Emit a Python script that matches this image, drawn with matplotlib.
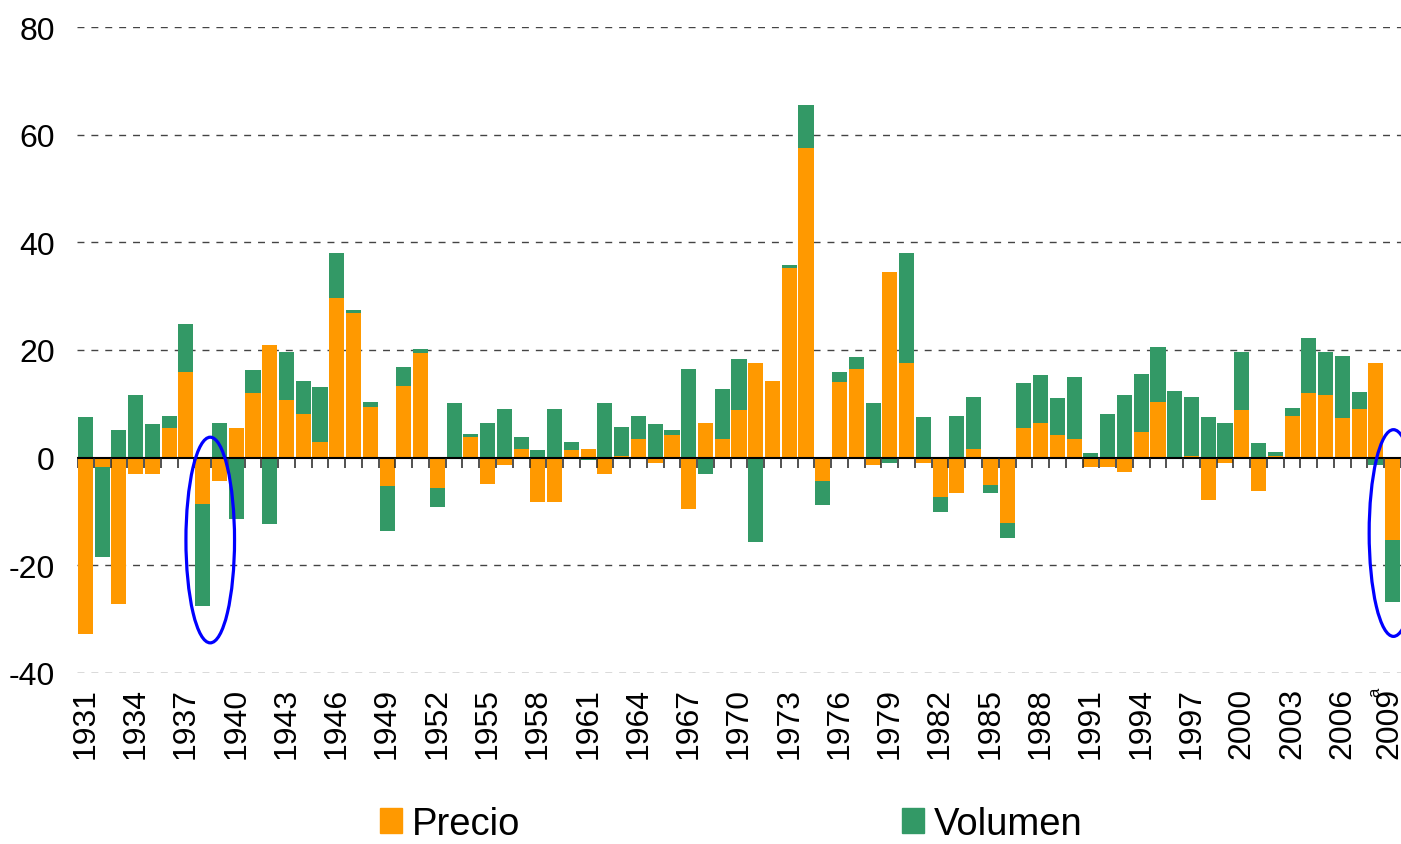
import numpy as np
import matplotlib.pyplot as plt
import matplotlib.transforms as mtransforms
from matplotlib.patches import Ellipse, Patch

plt.rcParams['font.family'] = ['Liberation Sans', 'DejaVu Sans']

# contribuciones anuales (puntos porcentuales)
years = list(range(1931, 2010))
precio = [-32.7, -1.8, -27.2, -3.1, -3.1, 5.6, 16.0, -8.6, -4.4, 5.6, 12.1, 21.0, 10.8, 8.2,
          3.0, 29.7, 26.9, 9.5, -5.3, 13.4, 19.5, -5.7, 0.0, 3.8, -4.8, -1.4, 1.7,
          -8.3, -8.3, 1.5, 1.7, -3.1, 0.25, 3.4, -0.9, 4.3, -9.6, 6.5, 3.4, 8.8,
          17.5, 14.3, 35.2, 57.5, -4.4, 14.0, 16.5, -1.4, 34.5, 17.5, -0.9, -7.3, -6.6,
          1.7, -5.1, -12.2, 5.6, 6.4, 4.3, 3.4, -1.8, -1.8, -2.7, 4.7, 10.4, 0.0,
          0.4, -7.9, -0.9, 8.8, -6.2, 0.4, 7.7, 12.1, 11.7, 7.3, 9.1, 17.5, -15.3]
volumen = [7.5, -16.7, 5.2, 11.7, 6.2, 2.2, 8.9, -18.9, 6.5, -11.4, 4.1, -12.3, 8.9, 6.1,
           10.2, 8.3, 0.6, 0.9, -8.3, 3.5, 0.6, -3.5, 10.1, 0.6, 6.5, 9.1, 2.2,
           1.4, 9.1, 1.5, -0.5, 10.1, 5.4, 4.4, 6.2, 0.9, 16.5, -3.1, 9.3, 9.6,
           -15.7, 0.0, 0.6, 8.0, -4.4, 1.9, 2.2, 10.1, -0.9, 20.6, 7.5, -2.8, 7.8,
           9.6, -1.5, -2.8, 8.3, 8.9, 6.7, 11.5, 0.8, 8.2, 11.7, 10.9, 10.2, 12.3,
           10.9, 7.5, 6.5, 10.9, 2.7, 0.6, 1.5, 10.2, 8.0, 11.5, 3.1, -1.4, -11.5]

c_precio = '#FF9900'
c_vol = '#339966'

fig = plt.figure(figsize=(14.01, 8.45), dpi=100)
ax = fig.add_axes([77/1401, 1-674/845, 1-77/1401, (674-28)/845])

x = np.arange(len(years))
p = np.array(precio)
v = np.array(volumen)
# apilado tipo Excel: positivos sobre positivos, negativos bajo negativos
bottom_v = np.where(np.sign(p) == np.sign(v), p, 0)

ax.bar(x, p, width=0.9, color=c_precio, zorder=2)
ax.bar(x, v, bottom=bottom_v, width=0.9, color=c_vol, zorder=2)

for yy in [-40, -20, 20, 40, 60, 80]:
    ax.axhline(yy, color='#444444', lw=1.0, ls=(0, (5, 5)), zorder=1)
ax.axhline(0, color='black', lw=1.5, zorder=3)
ax.vlines(np.arange(-0.5, len(years)), 0, -1.9, color='#222222', lw=1.1, zorder=3)

# elipses de resaltado
ax.add_patch(Ellipse((7.45, -15.3), 2.9, 38.2, fill=False, edgecolor='#0000FF', lw=2.3, zorder=4))
ax.add_patch(Ellipse((78.05, -14.0), 2.9, 38.4, fill=False, edgecolor='#0000FF', lw=2.3, zorder=4))

ax.set_xlim(-0.5, len(years) - 0.5)
ax.set_ylim(-40, 80)
ax.set_yticks([-40, -20, 0, 20, 40, 60, 80])
ax.set_yticklabels(['-40', '-20', '0', '20', '40', '60', '80'], fontsize=23)

lbls = [str(y) for y in years[::3]]
lbls[-1] = ''
ax.set_xticks(x[::3])
ax.set_xticklabels(lbls, rotation=90, fontsize=23, va='top')
ax.tick_params(axis='both', length=0)
ax.tick_params(axis='y', pad=16)
ax.tick_params(axis='x', pad=10)
for s in ax.spines.values():
    s.set_visible(False)

# ultima etiqueta con llamada "a", pegada al borde derecho
trans = mtransforms.blended_transform_factory(ax.transData, ax.transAxes)
ax.text(x[-1] - 0.2, -0.0215, str(years[-1]), rotation=90, fontsize=23,
        ha='center', va='top', transform=trans, clip_on=False)
ax.text(x[-1] - 1.05, -0.0215, 'a', rotation=90, fontsize=12,
        ha='center', va='top', transform=trans, clip_on=False)

fig.legend(handles=[Patch(color=c_precio)], labels=['Precio'], loc='center left',
           bbox_to_anchor=(380/1401, 1-825/845), frameon=False, fontsize=27.5,
           handlelength=0.58, handleheight=0.63, handletextpad=0.25, borderpad=0, borderaxespad=0)
fig.legend(handles=[Patch(color=c_vol)], labels=['Volumen'], loc='center left',
           bbox_to_anchor=(902/1401, 1-825/845), frameon=False, fontsize=27.5,
           handlelength=0.58, handleheight=0.63, handletextpad=0.25, borderpad=0, borderaxespad=0)

fig.savefig('out.png', dpi=100)
